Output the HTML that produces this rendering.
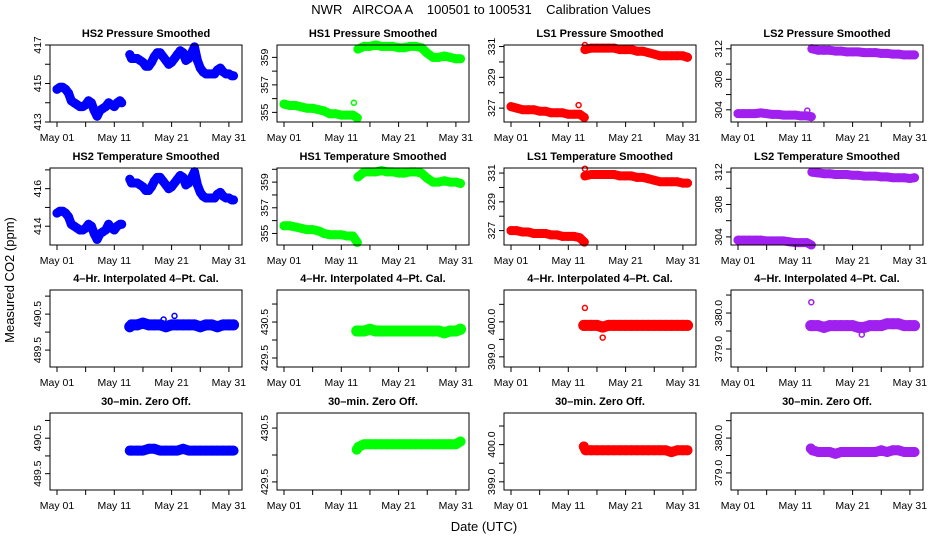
<!DOCTYPE html>
<html><head><meta charset="utf-8"><title>NWR AIRCOA A Calibration Values</title>
<style>
html,body{margin:0;padding:0;background:#fff}
svg{display:block}
text{font-family:"Liberation Sans",Arial,sans-serif;fill:#000}
.pt{font-weight:bold;font-size:11px}
.tk{font-size:10.5px}
</style></head>
<body>
<svg id="chart" width="936" height="540" viewBox="0 0 936 540" xmlns="http://www.w3.org/2000/svg">
<text x="481" y="14" text-anchor="middle" font-size="13" xml:space="preserve">NWR   AIRCOA A    100501 to 100531    Calibration Values</text>
<text x="14" y="280" text-anchor="middle" font-size="13" transform="rotate(-90 14 280)">Measured CO2 (ppm)</text>
<text x="484" y="531" text-anchor="middle" font-size="13">Date (UTC)</text>
<g id="panels"></g>
</svg>
<script>
// ---- data (day offset from May 01 00:00, CO2 ppm) ----
const xTickDays = [0,5,10,15,20,25,30];
const xTickLabels = ["May 01","","May 11","","May 21","","May 31"];

const hs2Days = [0,0.5,1,1.5,2,2.5,3,3.5,4,4.5,5,5.5,6,6.5,7,7.5,8,8.5,9,9.5,10,10.5,11,11.3,null,12.7,13,13.5,14,14.5,15,15.5,16,16.5,17,17.5,18,18.5,19,19.5,20,20.5,21,21.5,22,22.5,23,23.5,24,24.5,25,25.5,26,26.5,27,27.5,28,28.5,29,29.5,30,30.5,30.8];
const hs2PVals = [414.7,414.8,414.8,414.7,414.5,414.1,414.0,413.9,413.8,413.8,413.9,414.1,414.0,413.6,413.3,413.6,413.7,413.8,414.0,413.9,413.8,414.0,414.1,414.0,null,416.5,416.3,416.3,416.3,416.2,416.1,415.9,415.9,416.1,416.4,416.6,416.6,416.4,416.2,416.0,416.1,416.3,416.5,416.7,416.6,416.2,416.3,416.6,416.9,416.2,415.8,415.6,415.5,415.5,415.5,415.5,415.7,415.8,415.6,415.5,415.5,415.4,415.4];
const hs2TVals = [414.7,414.8,414.8,414.7,414.5,414.1,414.0,413.9,413.8,413.8,413.9,414.1,414.0,413.6,413.3,413.6,413.7,413.8,414.1,413.9,413.8,414.0,414.1,414.1,null,416.5,416.3,416.3,416.3,416.2,416.1,415.9,415.9,416.1,416.4,416.6,416.6,416.4,416.2,416.0,416.1,416.3,416.5,416.7,416.6,416.2,416.3,416.6,416.9,416.2,415.8,415.6,415.5,415.5,415.5,415.5,415.7,415.8,415.6,415.5,415.5,415.4,415.4];

const stepDays = [0,1,2,3,4,5,6,7,8,9,10,11,12,12.8,null,12.9,14,15,16,17,18,19,20,21,22,23,24,25,26,27,28,29,30,30.8];
const hs1PVals = [355.6,355.5,355.5,355.4,355.3,355.3,355.2,355.1,354.9,354.9,354.8,354.8,354.8,354.6,null,359.6,359.8,359.8,359.9,359.8,359.8,359.8,359.7,359.7,359.8,359.8,359.7,359.3,359.0,359.0,359.1,359.0,358.9,358.9];
const hs1TVals = [355.6,355.6,355.5,355.4,355.3,355.3,355.2,355.0,354.9,354.9,354.9,354.8,354.8,354.3,null,359.4,359.8,359.8,359.8,359.9,359.8,359.8,359.7,359.7,359.8,359.8,359.7,359.3,359.0,359.0,359.1,359.0,359.0,358.9];
const ls1PVals = [327.1,327.0,326.9,326.9,326.9,326.8,326.8,326.7,326.7,326.7,326.6,326.6,326.6,326.4,null,330.8,330.9,330.9,330.9,330.9,330.9,330.8,330.8,330.8,330.7,330.7,330.6,330.5,330.4,330.4,330.4,330.4,330.4,330.3];
const ls1TVals = [327.0,327.0,326.9,326.9,326.8,326.8,326.8,326.7,326.7,326.6,326.6,326.6,326.5,326.2,null,330.8,330.9,330.9,330.9,330.9,330.9,330.8,330.8,330.8,330.7,330.7,330.6,330.5,330.4,330.4,330.4,330.4,330.3,330.3];
const ls2PVals = [303.5,303.5,303.5,303.5,303.6,303.5,303.4,303.4,303.3,303.3,303.3,303.2,303.2,303.1,null,312.0,311.8,311.8,311.8,311.7,311.7,311.6,311.6,311.6,311.5,311.5,311.5,311.4,311.4,311.3,311.3,311.2,311.2,311.2];
const ls2TVals = [303.6,303.6,303.6,303.6,303.6,303.5,303.5,303.5,303.5,303.4,303.3,303.3,303.3,303.0,null,312.0,311.9,311.8,311.8,311.7,311.7,311.7,311.6,311.6,311.5,311.5,311.5,311.4,311.4,311.3,311.3,311.3,311.2,311.3];

const calDays = [12.7,13,14,15,16,17,18,19,20,21,22,23,24,25,26,27,28,29,30,30.8];
const hs2CalVals = [490.15,490.2,490.2,490.25,490.2,490.2,490.2,490.15,490.2,490.2,490.2,490.2,490.2,490.15,490.2,490.2,490.15,490.2,490.2,490.2];
const hs1CalVals = [430.25,430.25,430.25,430.3,430.25,430.25,430.25,430.25,430.25,430.25,430.25,430.25,430.25,430.25,430.25,430.25,430.2,430.25,430.25,430.3];
const ls1CalVals = [399.9,399.9,399.9,399.9,399.85,399.9,399.9,399.9,399.9,399.9,399.9,399.9,399.9,399.9,399.9,399.9,399.9,399.9,399.9,399.9];
const ls2CalVals = [379.65,379.65,379.65,379.6,379.65,379.65,379.65,379.65,379.65,379.6,379.6,379.65,379.65,379.65,379.7,379.7,379.7,379.65,379.65,379.65];
const hs2ZeroVals = [490.15,490.15,490.15,490.15,490.2,490.2,490.15,490.15,490.15,490.15,490.2,490.15,490.15,490.15,490.15,490.15,490.15,490.15,490.15,490.15];
const hs1ZeroVals = [430.1,430.15,430.2,430.2,430.2,430.2,430.2,430.2,430.2,430.2,430.2,430.2,430.2,430.2,430.2,430.2,430.2,430.2,430.2,430.25];
const ls1ZeroVals = [399.95,399.85,399.85,399.85,399.85,399.85,399.85,399.85,399.85,399.85,399.85,399.85,399.85,399.85,399.85,399.85,399.8,399.85,399.85,399.85];
const ls2ZeroVals = [379.7,379.65,379.6,379.6,379.6,379.55,379.6,379.6,379.6,379.6,379.6,379.6,379.6,379.65,379.6,379.65,379.65,379.6,379.6,379.6];

// outliers: [day, value]
const hs1POut = [[12.2,355.7]];
const ls1POut = [[11.8,327.2],[12.9,331.1]];
const ls1TOut = [[12.9,331.3]];
const ls2POut = [[12.1,303.9]];
const hs2CalOut = [[20.5,490.45],[18.6,490.35]];
const ls1CalOut = [[12.9,400.4],[16,399.55]];
const ls2CalOut = [[12.8,380.3],[21.6,379.4]];

const panelTitles = ["HS2 Pressure Smoothed","HS1 Pressure Smoothed","LS1 Pressure Smoothed","LS2 Pressure Smoothed",
 "HS2 Temperature Smoothed","HS1 Temperature Smoothed","LS1 Temperature Smoothed","LS2 Temperature Smoothed",
 "4\u2013Hr. Interpolated 4\u2013Pt. Cal.","4\u2013Hr. Interpolated 4\u2013Pt. Cal.","4\u2013Hr. Interpolated 4\u2013Pt. Cal.","4\u2013Hr. Interpolated 4\u2013Pt. Cal.",
 "30\u2013min. Zero Off.","30\u2013min. Zero Off.","30\u2013min. Zero Off.","30\u2013min. Zero Off."];
const yRanges = [[413,417],[354.3,359.9],[326.1,331.1],[302.4,312.5],
 [413.0,417.1],[354.1,360.1],[326.0,331.35],[303,312.5],
 [489.03,491.17],[429.25,431.39],[398.71,400.91],[378.5,380.64],
 [489.04,491.21],[429.35,430.78],[398.78,400.85],[378.51,380.72]];
const yTicks = [[413,414,415,416,417],[355,356,357,358,359],[327,328,329,330,331],[304,306,308,310,312],
 [414,415,416,417],[355,356,357,358,359,360],[327,328,329,330,331],[304,306,308,310,312],
 [489.5,490,490.5,491],[429.5,430,430.5,431],[399,399.5,400,400.5],[379,379.5,380,380.5],
 [489.5,490,490.5,491],[429.5,430,430.5],[399,399.5,400,400.5],[379,379.5,380,380.5]];
const yTickLabels = [["413","","415","","417"],["355","","357","","359"],["327","","329","","331"],["304","","308","","312"],
 ["414","","416",""],["355","","357","","359",""],["327","","329","","331"],["304","","308","","312"],
 ["489.5","","490.5",""],["429.5","","430.5",""],["399.0","","400.0",""],["379.0","","380.0",""],
 ["489.5","","490.5",""],["429.5","","430.5"],["399.0","","400.0",""],["379.0","","380.0",""]];

const series = [
 [hs2Days,hs2PVals,[]],[stepDays,hs1PVals,hs1POut],[stepDays,ls1PVals,ls1POut],[stepDays,ls2PVals,ls2POut],
 [hs2Days,hs2TVals,[]],[stepDays,hs1TVals,[]],[stepDays,ls1TVals,ls1TOut],[stepDays,ls2TVals,[]],
 [calDays,hs2CalVals,hs2CalOut],[calDays,hs1CalVals,[]],[calDays,ls1CalVals,ls1CalOut],[calDays,ls2CalVals,ls2CalOut],
 [calDays,hs2ZeroVals,[]],[calDays,hs1ZeroVals,[]],[calDays,ls1ZeroVals,[]],[calDays,ls2ZeroVals,[]]];

// ---- layout ----
const NS = "http://www.w3.org/2000/svg";
const colLeft = [50,277,504,731];
const rowTop = [45,168,290,413];
const boxW = 192, boxH = 77;
const colors = ["#0000ff","#00ff00","#ff0000","#a020f0"];
const bandW = [9,9,11,10];
const root = document.getElementById("panels");

function mk(tag, attrs, parent){
  const e = document.createElementNS(NS, tag);
  for (const k in attrs) e.setAttribute(k, attrs[k]);
  parent.appendChild(e);
  return e;
}

for (let i = 0; i < 16; i++) {
  const r = Math.floor(i/4), c = i%4;
  const L = colLeft[c], T = rowTop[r];
  const [y0, y1] = yRanges[i];
  const xs = d => L + 7 + d*5.73;
  const ys = v => T + boxH - (v - y0)/(y1 - y0)*boxH;
  const g = mk("g", {}, root);
  
  

  const t = mk("text", {x: L + boxW/2, y: T - 8, "text-anchor": "middle", class: "pt"}, g);
  t.textContent = panelTitles[i];
  
  

  const [days, vals, outs] = series[i];
  const col = colors[c];
  const dg = mk("g", {}, g);
  
  
  let segs = [], cur = [];
  for (let k = 0; k < days.length; k++) {
    if (days[k] === null || vals[k] === null) { if (cur.length) segs.push(cur); cur = []; continue; }
    cur.push([xs(days[k]), ys(vals[k])]);
  }
  if (cur.length) segs.push(cur);
  segs.forEach(s => {
    const p = mk("polyline", {points: s.map(q => q[0].toFixed(1)+","+q[1].toFixed(1)).join(" "),
      fill: "none", stroke: col, "stroke-width": bandW[r], "stroke-linejoin": "round", "stroke-linecap": "round"}, dg);
    
    
    s.forEach(q => {
      const ci = mk("circle", {cx: q[0].toFixed(1), cy: q[1].toFixed(1), r: bandW[r]/2, fill: col, stroke: "none"}, dg);
      
      
    });
  });
  outs.forEach(o => {
    const ci = mk("circle", {cx: xs(o[0]).toFixed(1), cy: ys(o[1]).toFixed(1), r: 2.5, fill: "none", stroke: col, "stroke-width": 1.5}, dg);
    
    
  });

  const b = mk("rect", {x: L, y: T, width: boxW, height: boxH, fill: "none", stroke: "#000", "stroke-width": 1}, g);
  
  

  const xa = mk("g", {}, g);
  
  
  xTickDays.forEach((d, k) => {
    const x = xs(d);
    mk("line", {x1: x, x2: x, y1: T+boxH, y2: T+boxH+5, stroke: "#000"}, xa);
    if (xTickLabels[k]) {
      const tl = mk("text", {x: x, y: T+boxH+19, "text-anchor": "middle", class: "tk"}, xa);
      tl.textContent = xTickLabels[k];
      
      
    }
  });
  const ya = mk("g", {}, g);
  
  
  yTicks[i].forEach((v, k) => {
    const y = ys(v);
    if (y < T - 0.5 || y > T + boxH + 0.5) return;
    mk("line", {x1: L-5, x2: L, y1: y, y2: y, stroke: "#000"}, ya);
    if (yTickLabels[i][k]) {
      const tl = mk("text", {x: L-9, y: y, "text-anchor": "middle", class: "tk", transform: "rotate(-90 "+(L-9)+" "+y.toFixed(1)+")"}, ya);
      tl.textContent = yTickLabels[i][k];
      
      
    }
  });
}
</script>
</body></html>
